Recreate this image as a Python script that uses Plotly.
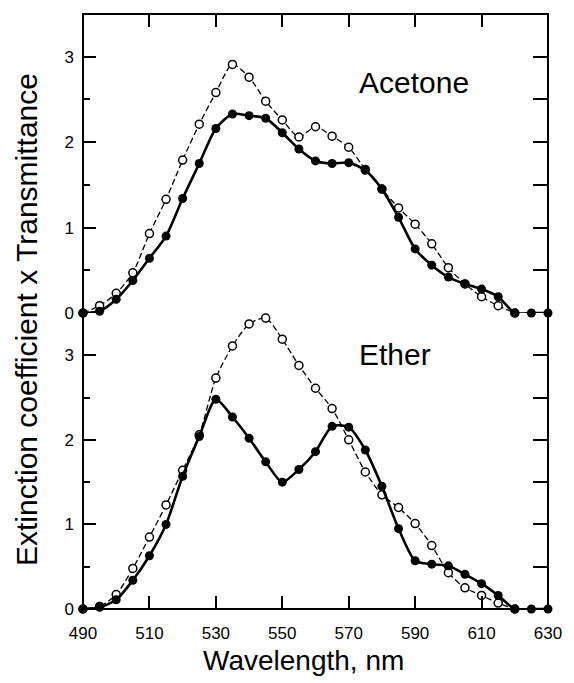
import plotly.graph_objects as go

# Wavelengths (nm)
wavelength = [490, 495, 500, 505, 510, 515, 520, 525, 530, 535, 540, 545, 550, 555, 560,
              565, 570, 575, 580, 585, 590, 595, 600, 605, 610, 615, 620, 625, 630]
wavelength_open = [490, 495, 500, 505, 510, 515, 520, 525, 530, 535, 540, 545, 550, 555, 560,
                   565, 570, 575, 580, 585, 590, 595, 600, 605, 610, 615, 620]

# Acetone panel
acetone_filled = [0, 0.02, 0.16, 0.38, 0.64, 0.90, 1.34, 1.75, 2.16, 2.33, 2.31, 2.28, 2.11, 1.92, 1.78,
                  1.75, 1.76, 1.67, 1.45, 1.12, 0.75, 0.56, 0.42, 0.34, 0.28, 0.19, 0, 0, 0]
acetone_open = [0, 0.085, 0.23, 0.47, 0.93, 1.33, 1.79, 2.21, 2.58, 2.91, 2.76, 2.48, 2.26, 2.06, 2.18,
                2.07, 1.94, 1.68, 1.45, 1.23, 1.04, 0.81, 0.53, 0.34, 0.19, 0.085, 0]

# Ether panel
ether_filled = [0, 0.02, 0.11, 0.34, 0.63, 1.00, 1.57, 2.04, 2.48, 2.27, 2.02, 1.74, 1.50, 1.65, 1.86,
                2.16, 2.15, 1.88, 1.45, 0.95, 0.57, 0.53, 0.51, 0.41, 0.30, 0.16, 0, 0, 0]
ether_open = [0, 0.03, 0.17, 0.48, 0.85, 1.23, 1.64, 2.06, 2.73, 3.11, 3.37, 3.44, 3.19, 2.88, 2.61,
              2.37, 2.00, 1.62, 1.35, 1.20, 1.01, 0.75, 0.43, 0.25, 0.16, 0.07, 0]

x_ticks = [490, 510, 530, 550, 570, 590, 610, 630]
y_ticks = [0, 1, 2, 3]

FONT = "Liberation Sans"
Y_RANGE = [0, 3.5]
X_RANGE = [490, 630]

fig = go.Figure()


def add_pair(xa, ya, open_vals, filled_vals):
    fig.add_trace(go.Scatter(
        x=wavelength_open, y=open_vals, xaxis=xa, yaxis=ya, mode="lines+markers",
        line=dict(color="black", width=1.3, dash="6px,3px", shape="spline", smoothing=0.7),
        marker=dict(symbol="circle", size=8, color="white", line=dict(color="black", width=1.5)),
        cliponaxis=False, showlegend=False, hoverinfo="skip"))
    fig.add_trace(go.Scatter(
        x=wavelength, y=filled_vals, xaxis=xa, yaxis=ya, mode="lines+markers",
        line=dict(color="black", width=2.6, shape="spline", smoothing=0.7),
        marker=dict(symbol="circle", size=9, color="black"),
        cliponaxis=False, showlegend=False, hoverinfo="skip"))


add_pair("x", "y", ether_open, ether_filled)
add_pair("x2", "y2", acetone_open, acetone_filled)

# invisible traces to make the mirror tick axes render
for xa, ya in [("x", "y3"), ("x2", "y4"), ("x3", "y2")]:
    fig.add_trace(go.Scatter(x=[500], y=[1], xaxis=xa, yaxis=ya, mode="markers",
                             marker=dict(opacity=0), showlegend=False, hoverinfo="skip"))

split = 0.4975
tickfont = dict(family=FONT, size=17, color="black")

left_y = dict(range=Y_RANGE, tickvals=y_ticks, ticks="inside", ticklen=13, tickwidth=2,
              tickcolor="black", showgrid=False, zeroline=False, showline=False,
              tickfont=dict(family=FONT, size=17, color="black"), ticklabelstandoff=8,
              minor=dict(ticks="inside", ticklen=7, tickwidth=2, tickcolor="black", dtick=0.5,
                         tick0=0, showgrid=False))
right_y = dict(range=Y_RANGE, dtick=0.5, tick0=0, ticks="inside", ticklen=15, tickwidth=2,
               tickcolor="black", showgrid=False, zeroline=False, showline=False,
               showticklabels=False, side="right")

fig.update_layout(
    width=574, height=683,
    margin=dict(l=83, r=21, t=14, b=74),
    paper_bgcolor="white", plot_bgcolor="white",
    xaxis=dict(range=X_RANGE, domain=[0, 1], anchor="y", tickvals=x_ticks, ticks="inside",
               ticklen=13, tickwidth=2, tickcolor="black", showgrid=False, zeroline=False,
               showline=False, tickfont=tickfont, ticklabelstandoff=12),
    xaxis2=dict(range=X_RANGE, domain=[0, 1], anchor="y2", showticklabels=False, ticks="",
                showgrid=False, zeroline=False, showline=False),
    xaxis3=dict(range=X_RANGE, overlaying="x2", anchor="y2", side="top",
                tickvals=[510, 530, 550, 570, 590, 610], ticks="inside", ticklen=13, tickwidth=2,
                tickcolor="black", showticklabels=False, showgrid=False, zeroline=False,
                showline=False),
    yaxis=dict(domain=[0, split], anchor="x", **left_y),
    yaxis2=dict(domain=[split, 1], anchor="x2", **left_y),
    yaxis3=dict(overlaying="y", anchor="x", **right_y),
    yaxis4=dict(overlaying="y2", anchor="x2", **right_y),
    shapes=[dict(type="rect", xref="paper", yref="paper", x0=0, x1=1, y0=0, y1=1,
                 line=dict(color="black", width=2), fillcolor="rgba(0,0,0,0)", layer="above")],
    annotations=[
        dict(text="Extinction coefficient x Transmittance", xref="paper", yref="paper",
             x=-0.123, y=0.487, xanchor="center", yanchor="middle", textangle=-90,
             showarrow=False, font=dict(family=FONT, size=30, color="black")),
        dict(text="Wavelength, nm", xref="paper", yref="paper", x=0.4745, y=-0.086,
             xanchor="center", yanchor="middle", showarrow=False,
             font=dict(family=FONT, size=28, color="black")),
        dict(text="Acetone", xref="paper", yref="paper", x=0.7128, y=0.885,
             xanchor="center", yanchor="middle", showarrow=False,
             font=dict(family=FONT, size=30, color="black")),
        dict(text="Ether", xref="paper", yref="paper", x=0.670, y=0.427,
             xanchor="center", yanchor="middle", showarrow=False,
             font=dict(family=FONT, size=30, color="black")),
    ],
)

fig.write_html("out.html")
